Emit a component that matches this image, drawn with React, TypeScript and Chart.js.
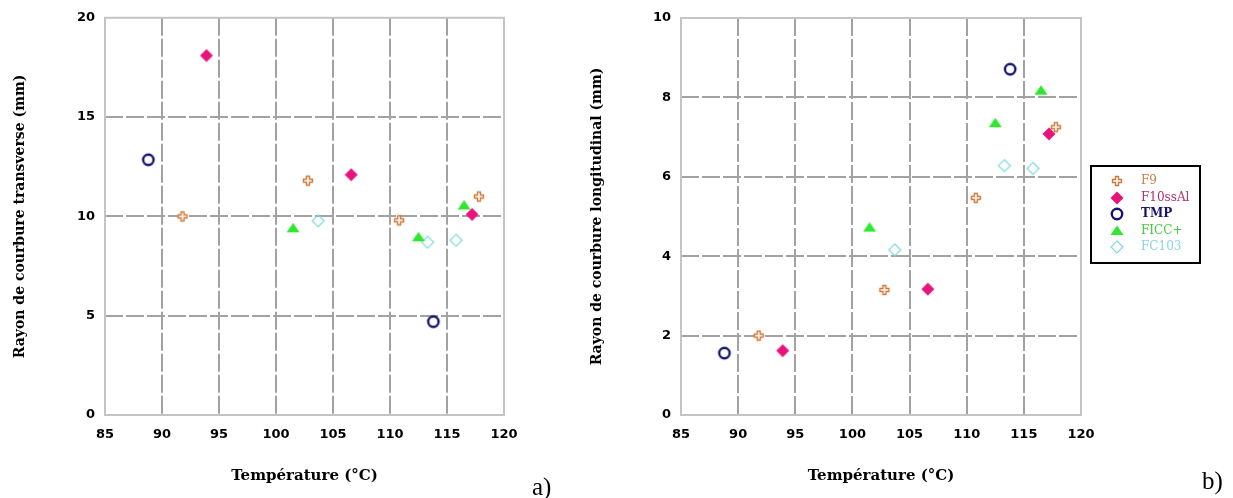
import React, { useEffect, useRef } from "react";
import { Chart, registerables } from "chart.js";

Chart.register(...registerables);

// ---- axis ticks ----
const xTickValues = [85, 90, 95, 100, 105, 110, 115, 120];
const yTicksTransverse = [0, 5, 10, 15, 20];
const yTicksLongitudinal = [0, 2, 4, 6, 8, 10];

// ---- series names ----
const seriesNames = ["F9", "F10ssAl", "TMP", "FICC+", "FC103"];

// ---- data: température (°C) ----
const tempF9 = [91.8, 102.8, 110.8, 117.8];
const tempF10ssAl = [93.9, 106.6, 117.2];
const tempTMP = [88.8, 113.8];
const tempFICC = [101.5, 112.5, 116.5];
const tempFC103 = [103.7, 113.3, 115.8];

// ---- data: rayon de courbure transverse (mm) ----
const transF9 = [10.0, 11.8, 9.8, 11.0];
const transF10ssAl = [18.1, 12.1, 10.1];
const transTMP = [12.85, 4.7];
const transFICC = [9.4, 8.95, 10.55];
const transFC103 = [9.78, 8.7, 8.8];

// ---- data: rayon de courbure longitudinal (mm) ----
const longF9 = [2.0, 3.15, 5.47, 7.25];
const longF10ssAl = [1.62, 3.17, 7.08];
const longTMP = [1.56, 8.71];
const longFICC = [4.72, 7.35, 8.17];
const longFC103 = [4.16, 6.28, 6.21];

// ---- styles ----
const markerKinds = ["plus", "diamondFilled", "circle", "triangle", "diamondHollow"];
const markerColors = ["#d0783a", "#e8147c", "#14146e", "#2ee82e", "#7fd8e2"];
const legendTextColors = ["#c8804a", "#b0306e", "#14146e", "#44cc44", "#88d4e4"];

function makeMarker(kind: string, color: string): HTMLCanvasElement {
  const s = 16;
  const c = document.createElement("canvas");
  c.width = s;
  c.height = s;
  const g = c.getContext("2d") as CanvasRenderingContext2D;
  const m = s / 2;
  if (kind === "plus") {
    const a = 1.5, b = 4.5;
    g.beginPath();
    g.moveTo(m - a, m - b); g.lineTo(m + a, m - b); g.lineTo(m + a, m - a);
    g.lineTo(m + b, m - a); g.lineTo(m + b, m + a); g.lineTo(m + a, m + a);
    g.lineTo(m + a, m + b); g.lineTo(m - a, m + b); g.lineTo(m - a, m + a);
    g.lineTo(m - b, m + a); g.lineTo(m - b, m - a); g.lineTo(m - a, m - a);
    g.closePath();
    g.fillStyle = "#fff";
    g.fill();
    g.strokeStyle = color;
    g.lineWidth = 1.4;
    g.stroke();
  } else if (kind === "diamondFilled") {
    const r = 6.5;
    g.beginPath();
    g.moveTo(m, m - r); g.lineTo(m + r, m); g.lineTo(m, m + r); g.lineTo(m - r, m);
    g.closePath();
    g.fillStyle = color;
    g.fill();
  } else if (kind === "circle") {
    g.beginPath();
    g.arc(m, m, 5.2, 0, Math.PI * 2);
    g.strokeStyle = color;
    g.lineWidth = 2.4;
    g.stroke();
  } else if (kind === "triangle") {
    g.beginPath();
    g.moveTo(m, m - 5.5); g.lineTo(m + 6.5, m + 4); g.lineTo(m - 6.5, m + 4);
    g.closePath();
    g.fillStyle = color;
    g.fill();
  } else {
    const r = 6;
    g.beginPath();
    g.moveTo(m, m - r); g.lineTo(m + r, m); g.lineTo(m, m + r); g.lineTo(m - r, m);
    g.closePath();
    g.strokeStyle = color;
    g.lineWidth = 1.2;
    g.stroke();
  }
  return c;
}

function pairs(xs: number[], ys: number[]) {
  return xs.map((x, i) => ({ x, y: ys[i] }));
}

function buildDatasets(ySeries: number[][]) {
  const temps = [tempF9, tempF10ssAl, tempTMP, tempFICC, tempFC103];
  return seriesNames.map((name, i) => ({
    label: name,
    data: pairs(temps[i], ySeries[i]),
    pointStyle: makeMarker(markerKinds[i], markerColors[i]),
    pointRadius: 6,
    showLine: false,
    legendColor: legendTextColors[i],
  }));
}

const tickFont = { family: "'DejaVu Sans', sans-serif", size: 13, weight: "bold" as const };
const yTitleFont = { family: "'DejaVu Serif', serif", size: 14, weight: "bold" as const };
const xTitleFont = { family: "'DejaVu Serif', serif", size: 15, weight: "bold" as const };

function framePlugin() {
  return {
    id: "frame",
    beforeDatasetsDraw(chart: any) {
      const { ctx, chartArea } = chart;
      ctx.save();
      ctx.strokeStyle = "#c4c4c4";
      ctx.lineWidth = 2;
      ctx.strokeRect(chartArea.left, chartArea.top, chartArea.right - chartArea.left, chartArea.bottom - chartArea.top);
      ctx.restore();
    },
  };
}

function boxLegendPlugin(cfg: { left: number; top: number; width: number; height: number; markerX: number; textX: number; rowY: number; rowGap: number }) {
  return {
    id: "boxLegend",
    afterDraw(chart: any) {
      const ctx = chart.ctx;
      ctx.save();
      ctx.fillStyle = "#fff";
      ctx.fillRect(cfg.left, cfg.top, cfg.width, cfg.height);
      ctx.lineWidth = 2;
      ctx.strokeStyle = "#000";
      ctx.strokeRect(cfg.left, cfg.top, cfg.width, cfg.height);
      chart.data.datasets.forEach((ds: any, i: number) => {
        const y = cfg.rowY + i * cfg.rowGap;
        const img = ds.pointStyle as HTMLCanvasElement;
        ctx.drawImage(img, Math.round(cfg.markerX - img.width / 2), Math.round(y - img.height / 2));
        ctx.fillStyle = ds.legendColor;
        ctx.font = (i === 2 ? "bold " : "") + "12px 'DejaVu Serif', serif";
        ctx.textBaseline = "middle";
        ctx.textAlign = "left";
        ctx.fillText(ds.label, cfg.textX, y);
      });
      ctx.restore();
    },
  };
}

function buildOptions(yTicks: number[], yTitle: string, yTitlePad: number, yAxisWidth: number, topPad: number, rightPad: number) {
  const xMin = xTickValues[0];
  const xMax = xTickValues[xTickValues.length - 1];
  const yMin = yTicks[0];
  const yMax = yTicks[yTicks.length - 1];
  const gridColor = (min: number, max: number) => (ctx: any) =>
    ctx.tick && (ctx.tick.value === min || ctx.tick.value === max) ? "rgba(0,0,0,0)" : "#a2a2a2";
  return {
    animation: false,
    responsive: false,
    layout: { padding: { left: 0, top: topPad, right: rightPad, bottom: 0 } },
    plugins: { legend: { display: false }, tooltip: { enabled: false } },
    scales: {
      x: {
        type: "linear",
        min: xMin,
        max: xMax,
        afterBuildTicks: (s: any) => { s.ticks = xTickValues.map((v) => ({ value: v })); },
        ticks: { font: tickFont, color: "#000", padding: 12, maxRotation: 0 },
        grid: { color: gridColor(xMin, xMax), lineWidth: 2, drawTicks: false },
        border: { display: false, dash: [18, 3] },
        title: { display: true, text: "Température (°C)", font: xTitleFont, color: "#000", padding: { top: 0, bottom: 13 } },
        afterFit: (s: any) => { s.height = 83; },
      },
      y: {
        type: "linear",
        min: yMin,
        max: yMax,
        afterBuildTicks: (s: any) => { s.ticks = yTicks.map((v) => ({ value: v })); },
        ticks: { font: tickFont, color: "#000", padding: 10 },
        grid: { color: gridColor(yMin, yMax), lineWidth: 2, drawTicks: false },
        border: { display: false, dash: [18, 3] },
        title: { display: true, text: yTitle, font: yTitleFont, color: "#000", padding: { top: yTitlePad, bottom: 0 } },
        afterFit: (s: any) => { s.width = yAxisWidth; },
      },
    },
  };
}

export default function App() {
  const leftRef = useRef<HTMLCanvasElement>(null);
  const rightRef = useRef<HTMLCanvasElement>(null);

  useEffect(() => {
    const charts: Chart[] = [];
    if (leftRef.current) {
      charts.push(
        new Chart(leftRef.current, {
          type: "scatter",
          data: { datasets: buildDatasets([transF9, transF10ssAl, transTMP, transFICC, transFC103]) as any },
          options: buildOptions(yTicksTransverse, "Rayon de courbure transverse (mm)", 12, 105, 17, 36) as any,
          plugins: [framePlugin()],
        })
      );
    }
    if (rightRef.current) {
      charts.push(
        new Chart(rightRef.current, {
          type: "scatter",
          data: { datasets: buildDatasets([longF9, longF10ssAl, longTMP, longFICC, longFC103]) as any },
          options: buildOptions(yTicksLongitudinal, "Rayon de courbure longitudinal (mm)", 14, 106, 18, 152) as any,
          plugins: [framePlugin(), boxLegendPlugin({ left: 516, top: 166, width: 109, height: 97, markerX: 542, textX: 566, rowY: 181, rowGap: 16.5 })],
        })
      );
    }
    return () => charts.forEach((c) => c.destroy());
  }, []);

  const labelStyle: React.CSSProperties = {
    position: "absolute",
    fontFamily: "'Liberation Serif', serif",
    fontSize: 25,
    lineHeight: "25px",
    color: "#000",
  };

  return (
    <div style={{ position: "fixed", left: 0, top: 0, width: 1233, height: 498, background: "#fff", overflow: "hidden" }}>
      <canvas ref={leftRef} width={540} height={498} style={{ position: "absolute", left: 0, top: 0, width: 540, height: 498 }} />
      <canvas ref={rightRef} width={658} height={498} style={{ position: "absolute", left: 575, top: 0, width: 658, height: 498 }} />
      <span style={{ ...labelStyle, left: 532, top: 474 }}>a)</span>
      <span style={{ ...labelStyle, left: 1202, top: 468 }}>b)</span>
    </div>
  );
}
